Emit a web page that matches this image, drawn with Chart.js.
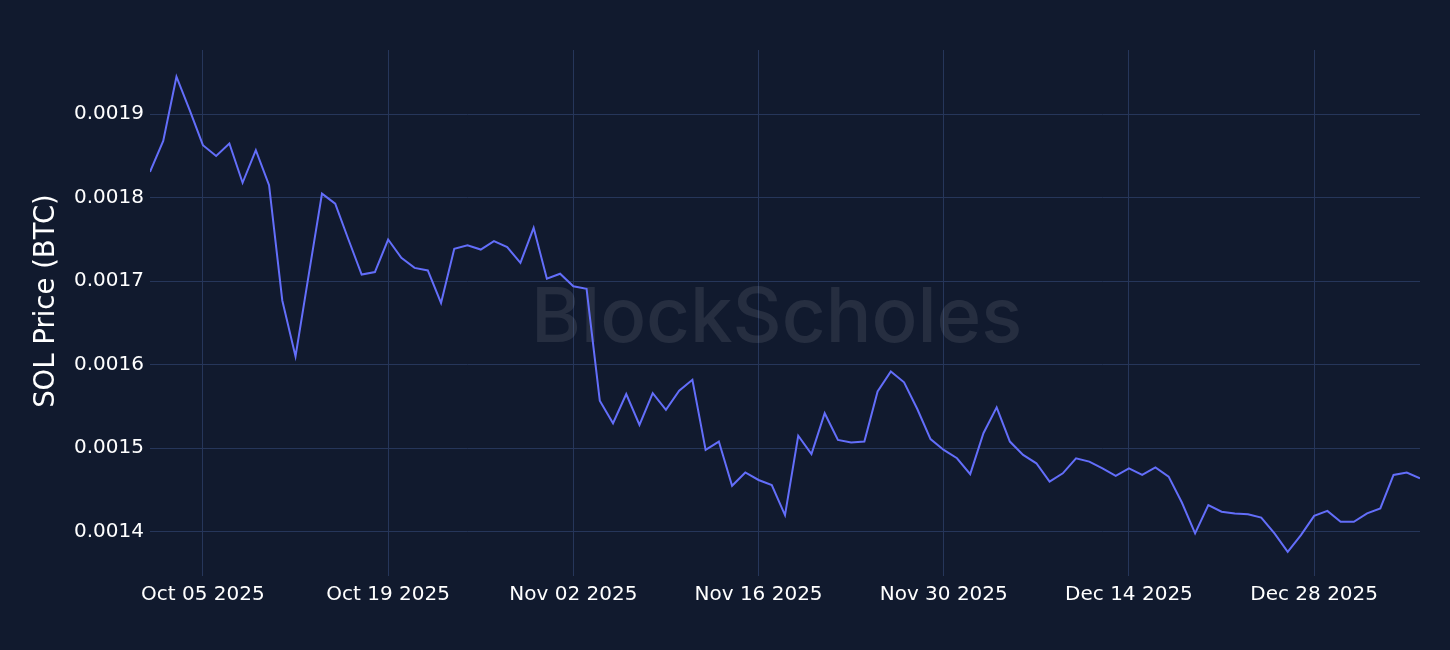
<!DOCTYPE html>
<html>
<head>
<meta charset="utf-8">
<script src="https://cdn.jsdelivr.net/npm/chart.js@4.4.1/dist/chart.umd.min.js"></script>
<style>
html,body{margin:0;padding:0;background:#111a2e;}
#wrap{width:1450px;height:650px;position:relative;}
</style>
</head>
<body>
<div id="wrap"><canvas id="c" width="1450" height="650"></canvas></div>
<script>
// Daily dates: Oct 01 2025 .. Jan 05 2026
const startDate = "2025-10-01";
const dayCount = 97;

const solBtc = [
  0.001831, 0.001868, 0.001945, 0.001905, 0.001863, 0.001850, 0.001865, 0.001818, 0.001857, 0.001815,
  0.001677, 0.001610, 0.001708, 0.001805, 0.001793, 0.001750, 0.001708, 0.001711, 0.001750, 0.001728,
  0.001716, 0.001713, 0.001674, 0.001739, 0.001743, 0.001738, 0.001748, 0.001741, 0.001722, 0.001764,
  0.001703, 0.001709, 0.001694, 0.001691, 0.001557, 0.001530, 0.001565, 0.001528, 0.001566, 0.001546,
  0.001569, 0.001582, 0.001498, 0.001508, 0.001455, 0.001471, 0.001462, 0.001456, 0.001420, 0.001515,
  0.001493, 0.001542, 0.001510, 0.001507, 0.001508, 0.001568, 0.001592, 0.001579, 0.001547, 0.001511,
  0.001498, 0.001488, 0.001469, 0.001518, 0.001549, 0.001508, 0.001492, 0.001482, 0.001460, 0.001470,
  0.001488, 0.001484, 0.001476, 0.001467, 0.001476, 0.001468, 0.001477, 0.001466, 0.001435, 0.001398,
  0.001432, 0.001424, 0.001422, 0.001421, 0.001417, 0.001398, 0.001376, 0.001396, 0.001419, 0.001425,
  0.001412, 0.001412, 0.001422, 0.001428, 0.001468, 0.001471, 0.001464
];

const xTickLabels = ["Oct 05 2025","Oct 19 2025","Nov 02 2025","Nov 16 2025","Nov 30 2025","Dec 14 2025","Dec 28 2025"];
const yTickValues = [0.0014, 0.0015, 0.0016, 0.0017, 0.0018, 0.0019];
const yTitle = "SOL Price (BTC)";
const watermark = "BlockScholes";

const MONTHS = ["Jan","Feb","Mar","Apr","May","Jun","Jul","Aug","Sep","Oct","Nov","Dec"];
function fmt(d){ return MONTHS[d.getUTCMonth()] + " " + String(d.getUTCDate()).padStart(2,"0") + " " + d.getUTCFullYear(); }
const dates = [];
{
  const s = new Date(startDate + "T00:00:00Z");
  for (let i = 0; i < dayCount; i++) dates.push(fmt(new Date(s.getTime() + i*86400000)));
}
const points = solBtc.map((v,i)=>({x:i, y:v}));
const xTickPos = xTickLabels.map(l => dates.indexOf(l));

const FONT = "'DejaVu Sans', Verdana, sans-serif";

function fitFont(ctx, text, family, weight, targetW){
  ctx.font = weight + " 100px " + family;
  const w = ctx.measureText(text).width;
  const size = 100 * targetW / w;
  ctx.font = weight + " " + size.toFixed(1) + "px " + family;
  return size;
}

const bgPlugin = {
  id:'bg',
  beforeDraw(chart){
    const ctx = chart.ctx;
    ctx.save(); ctx.fillStyle = '#111a2e'; ctx.fillRect(0,0,chart.width,chart.height); ctx.restore();
  },
  beforeDatasetsDraw(chart){
    const ctx = chart.ctx;
    ctx.save();
    fitFont(ctx, watermark, "Inter, 'Open Sans', sans-serif", "500", 491);
    ctx.fillStyle = 'rgba(255,255,255,0.09)';
    ctx.textAlign = 'left';
    ctx.textBaseline = 'alphabetic';
    ctx.fillText(watermark, 531, 342);
    ctx.restore();
  },
  afterDraw(chart){
    const ctx = chart.ctx;
    ctx.save();
    fitFont(ctx, yTitle, FONT, "400", 214);
    ctx.fillStyle = '#ffffff';
    ctx.textAlign = 'center';
    ctx.textBaseline = 'middle';
    ctx.translate(47, 301);
    ctx.rotate(-Math.PI/2);
    ctx.fillText(yTitle, 0, 0);
    ctx.restore();
  }
};

new Chart(document.getElementById('c'), {
  type:'line',
  data:{ datasets:[{ data: points, borderColor:'#636efa', borderWidth:2, pointRadius:0, tension:0, fill:false }]},
  options:{
    responsive:false, animation:false,
    layout:{ padding:{ top:50, right:30, bottom:0, left:0 } },
    plugins:{ legend:{display:false}, tooltip:{enabled:false} },
    scales:{
      x:{
        type:'linear', min:0, max:dayCount-1,
        afterBuildTicks(s){ s.ticks = xTickPos.map(v=>({value:v})); },
        afterFit(s){ s.height = 74; },
        ticks:{ color:'#ffffff', font:{family:FONT, size:20}, padding:7, maxRotation:0,
          callback:(v)=>{ const k = xTickPos.indexOf(v); return k>=0 ? xTickLabels[k] : ''; } },
        grid:{ color:'#26365a', lineWidth:1, drawTicks:false },
        border:{ display:false }
      },
      y:{
        type:'linear', min:0.001347, max:0.001977,
        afterBuildTicks(s){ s.ticks = yTickValues.map(v=>({value:v})); },
        afterFit(s){ s.width = 150; },
        ticks:{ color:'#ffffff', font:{family:FONT, size:20}, padding:6,
          callback:(v)=>v.toFixed(4) },
        title:{ display:false, text:yTitle },
        grid:{ color:'#26365a', lineWidth:1, drawTicks:false },
        border:{ display:false }
      }
    }
  },
  plugins:[bgPlugin]
});
</script>
</body>
</html>
